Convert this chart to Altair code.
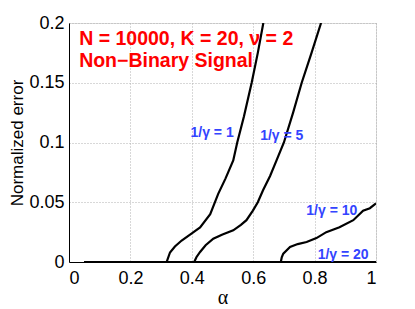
import altair as alt
import pandas as pd

# Curves (alpha, normalized error)
x_g1 = [0.05, 0.318, 0.329, 0.345, 0.367, 0.40, 0.427, 0.46, 0.486, 0.51, 0.535, 0.548, 0.57, 0.595, 0.615, 0.633]
y_g1 = [0, 0, 0.008, 0.013, 0.018, 0.024, 0.029, 0.040, 0.057, 0.070, 0.085, 0.100, 0.122, 0.150, 0.175, 0.200]

x_g5 = [0.05, 0.408, 0.415, 0.427, 0.445, 0.470, 0.50, 0.535, 0.56, 0.578, 0.599, 0.615, 0.632, 0.655, 0.676, 0.70, 0.73, 0.758, 0.79, 0.821]
y_g5 = [0, 0, 0.004, 0.0084, 0.014, 0.0195, 0.023, 0.0265, 0.031, 0.035, 0.043, 0.050, 0.060, 0.072, 0.085, 0.100, 0.125, 0.150, 0.175, 0.200]

x_g10 = [0.05, 0.690, 0.693, 0.698, 0.720, 0.745, 0.774, 0.806, 0.838, 0.881, 0.926, 0.958, 0.98, 1.0]
y_g10 = [0, 0, 0.004, 0.007, 0.0126, 0.015, 0.0167, 0.020, 0.025, 0.029, 0.035, 0.043, 0.045, 0.049]

x_g20 = [0.05, 1.0]
y_g20 = [0, 0]

label_text = ["1/γ = 1", "1/γ = 5", "1/γ = 10", "1/γ = 20"]
label_x = [0.466, 0.693, 0.856, 0.893]
label_y = [0.1077, 0.1055, 0.0427, 0.0056]

note_text = ["N = 10000, K = 20, ν = 2", "Non−Binary Signal"]
note_x = [0.033, 0.033]
note_y = [0.1865, 0.1680]

x_ticks = [0, 0.2, 0.4, 0.6, 0.8, 1]
y_ticks = [0, 0.05, 0.1, 0.15, 0.2]

rows = []
for name, xs, ys in [("1", x_g1, y_g1), ("5", x_g5, y_g5), ("10", x_g10, y_g10), ("20", x_g20, y_g20)]:
    for i, (a, b) in enumerate(zip(xs, ys)):
        rows.append({"series": name, "order": i, "alpha": a, "err": b})
df = pd.DataFrame(rows)
lab = pd.DataFrame({"t": label_text, "x": label_x, "y": label_y})
notes = pd.DataFrame({"t": note_text, "x": note_x, "y": note_y})

xs = alt.Scale(domain=[0, 1], nice=False)
ys = alt.Scale(domain=[0, 0.2], nice=False)

lines = alt.Chart(df).mark_line(color="black", strokeWidth=2.2, clip=True).encode(
    x=alt.X("alpha:Q", scale=xs, title="α",
            axis=alt.Axis(values=x_ticks, labelExpr="format(datum.value, '~g')",
                          grid=True, gridColor="#b0b0b0", gridDash=[1, 2],
                          ticks=False, domainColor="black", labelFont="Liberation Sans",
                          labelFontSize=18, labelColor="black", labelPadding=7,
                          titleFont="Liberation Serif", titleFontSize=20, titleFontWeight="normal",
                          titleColor="black", titlePadding=0)),
    y=alt.Y("err:Q", scale=ys, title="Normalized error",
            axis=alt.Axis(values=y_ticks, labelExpr="format(datum.value, '~g')",
                          grid=True, gridColor="#b0b0b0", gridDash=[1, 2],
                          ticks=False, domainColor="black", labelFont="Liberation Sans",
                          labelFontSize=18, labelColor="black", labelPadding=5,
                          titleFont="Liberation Sans", titleFontSize=17, titleFontWeight="normal",
                          titleColor="black", titlePadding=2)),
    detail="series:N",
    order="order:Q",
)

labels = alt.Chart(lab).mark_text(color="#3344ff", font="Liberation Sans", fontWeight="bold",
                                  fontSize=14, align="center", baseline="middle").encode(
    x=alt.X("x:Q", scale=xs), y=alt.Y("y:Q", scale=ys), text="t:N")

note = alt.Chart(notes).mark_text(color="#ff0000", font="Liberation Sans", fontWeight="bold",
                                  fontSize=19.5, align="left", baseline="middle").encode(
    x=alt.X("x:Q", scale=xs), y=alt.Y("y:Q", scale=ys), text="t:N")

chart = alt.layer(lines, labels, note).properties(
    width=307, height=239,
    autosize=alt.AutoSizeParams(type="none"),
    padding={"left": 61, "top": 15, "right": 31, "bottom": 44},
).configure_view(stroke="#888888", strokeWidth=1).configure(background="white")

chart.save("out.html", embed_options={"renderer": "svg", "actions": False})
